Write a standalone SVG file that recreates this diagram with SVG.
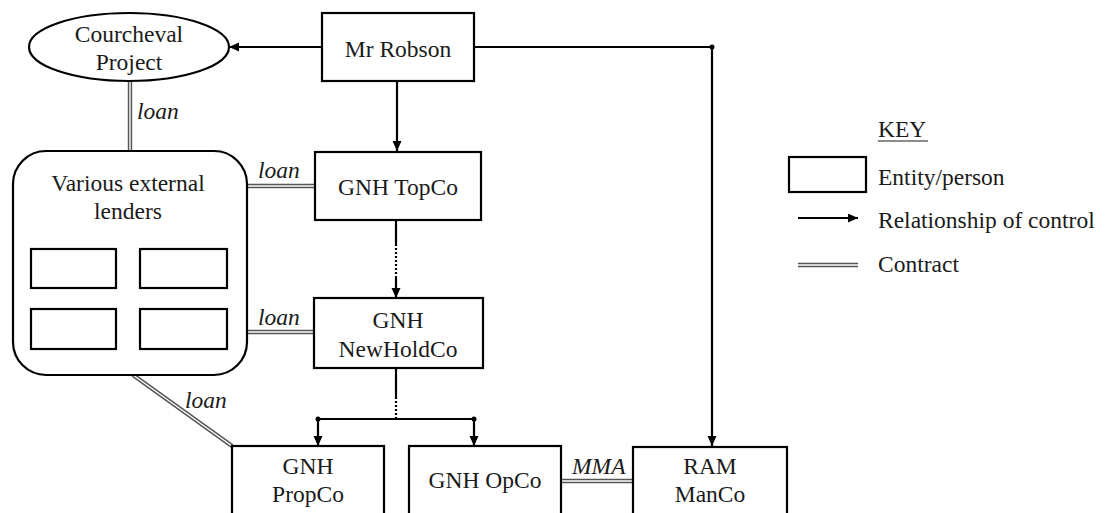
<svg xmlns="http://www.w3.org/2000/svg" width="1106" height="513" viewBox="0 0 1106 513" font-family="'Liberation Serif', serif">
<defs>
<marker id="arr" markerUnits="userSpaceOnUse" markerWidth="10" markerHeight="10" refX="10" refY="4.5" orient="auto">
<path d="M0,0 L10,4.5 L0,9 z" fill="#000"/>
</marker>
</defs>
<style>
.box{fill:#fff;stroke:#000;stroke-width:2.2}
text{font-size:23.5px;fill:#1a1a1a}
.t{text-anchor:middle}
.l{font-style:italic}
.ctl{fill:none;stroke:#000;stroke-width:2.2}
.dot{fill:none;stroke:#000;stroke-width:2.2;stroke-dasharray:2 2}
.co{fill:none;stroke:#555;stroke-width:4.4}
.ci{fill:none;stroke:#fff;stroke-width:1.4}
</style>
<rect width="1106" height="513" fill="#fff"/>
<g id="connectors">
<line class="ctl" x1="322" y1="47" x2="229" y2="47" marker-end="url(#arr)"/>
<polyline class="ctl" points="474,47 712,47 712,446" marker-end="url(#arr)"/>
<circle cx="712" cy="47" r="2.5" fill="#000"/>
<line class="ctl" x1="397" y1="81" x2="397" y2="151" marker-end="url(#arr)"/>
<line class="ctl" x1="396" y1="220" x2="396" y2="244"/>
<line class="dot" x1="396" y1="244" x2="396" y2="276"/>
<line class="ctl" x1="396" y1="276" x2="396" y2="298" marker-end="url(#arr)"/>
<line class="ctl" x1="396" y1="368" x2="396" y2="397"/>
<line class="dot" x1="396" y1="397" x2="396" y2="419"/>
<line class="ctl" x1="318" y1="419" x2="474" y2="419"/>
<circle cx="318" cy="419" r="2.5" fill="#000"/>
<circle cx="474" cy="419" r="2.5" fill="#000"/>
<line class="ctl" x1="318" y1="419" x2="318" y2="446" marker-end="url(#arr)"/>
<line class="ctl" x1="474" y1="419" x2="474" y2="446" marker-end="url(#arr)"/>
<line class="co" x1="130" y1="82" x2="130" y2="152"/>
<line class="ci" x1="130" y1="82" x2="130" y2="152"/>
<line class="co" x1="247" y1="186" x2="315" y2="186"/>
<line class="ci" x1="247" y1="186" x2="315" y2="186"/>
<line class="co" x1="247" y1="332" x2="314" y2="332"/>
<line class="ci" x1="247" y1="332" x2="314" y2="332"/>
<line class="co" x1="133" y1="375" x2="232" y2="446"/>
<line class="ci" x1="133" y1="375" x2="232" y2="446"/>
<line class="co" x1="561" y1="481" x2="633" y2="481"/>
<line class="ci" x1="561" y1="481" x2="633" y2="481"/>
<text class="l" x="137" y="119">loan</text>
<text class="l" x="258" y="178">loan</text>
<text class="l" x="258" y="325">loan</text>
<text class="l" x="185" y="408">loan</text>
<text class="l" x="572" y="474">MMA</text>
</g>
<g id="courcheval">
<ellipse class="box" cx="129" cy="47" rx="100" ry="34"/>
<text class="t" x="129" y="42">Courcheval</text>
<text class="t" x="129" y="70">Project</text>
</g>
<g id="robson">
<rect class="box" x="322" y="13" width="152" height="68"/>
<text class="t" x="398" y="57">Mr Robson</text>
</g>
<g id="lenders">
<rect class="box" x="13" y="151" width="234" height="224" rx="33" ry="33"/>
<text class="t" x="128" y="191">Various external</text>
<text class="t" x="128" y="219">lenders</text>
<rect class="box" x="31" y="249" width="85" height="39"/>
<rect class="box" x="140" y="249" width="87" height="39"/>
<rect class="box" x="31" y="309" width="85" height="40"/>
<rect class="box" x="140" y="309" width="87" height="40"/>
</g>
<g id="topco">
<rect class="box" x="315" y="152" width="166" height="68"/>
<text class="t" x="398" y="195">GNH TopCo</text>
</g>
<g id="newholdco">
<rect class="box" x="314" y="298" width="169" height="70"/>
<text class="t" x="398" y="328">GNH</text>
<text class="t" x="398" y="357">NewHoldCo</text>
</g>
<g id="propco">
<rect class="box" x="232" y="446" width="152" height="80"/>
<text class="t" x="308" y="474">GNH</text>
<text class="t" x="308" y="502">PropCo</text>
</g>
<g id="opco">
<rect class="box" x="409" y="446" width="152" height="80"/>
<text class="t" x="485" y="488">GNH OpCo</text>
</g>
<g id="manco">
<rect class="box" x="633" y="447" width="154" height="80"/>
<text class="t" x="710" y="474">RAM</text>
<text class="t" x="710" y="502">ManCo</text>
</g>
<g id="key">
<text x="878" y="137">KEY</text>
<line x1="878" y1="141" x2="928" y2="141" stroke="#1a1a1a" stroke-width="1.2"/>
<rect class="box" x="789" y="157" width="77" height="35"/>
<text x="878" y="185">Entity/person</text>
<line class="ctl" x1="798" y1="218" x2="858" y2="218" marker-end="url(#arr)"/>
<text x="878" y="228">Relationship of control</text>
<line class="co" x1="798" y1="265" x2="858" y2="265"/>
<line class="ci" x1="798" y1="265" x2="858" y2="265"/>
<text x="878" y="272">Contract</text>
</g>
</svg>
